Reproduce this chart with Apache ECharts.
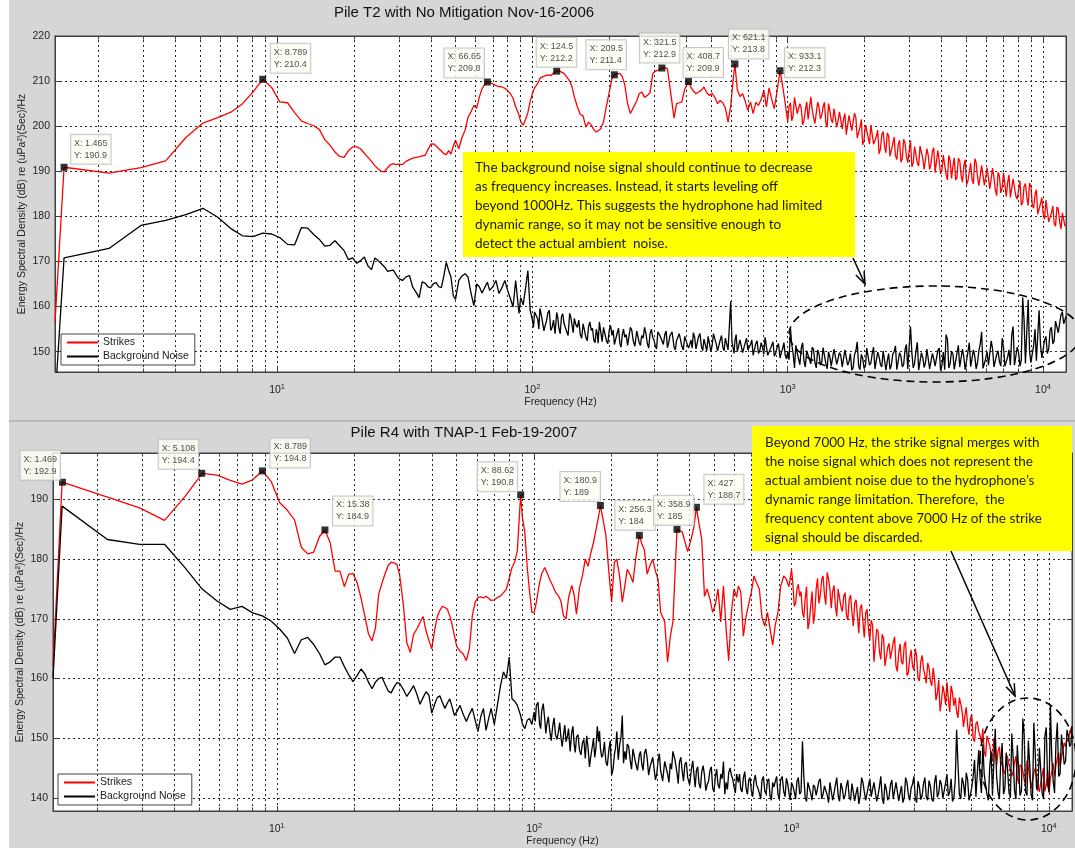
<!DOCTYPE html>
<html><head><meta charset="utf-8">
<script src="https://cdn.jsdelivr.net/npm/echarts@6/dist/echarts.min.js"></script>
<style>html,body{margin:0;padding:0;background:#fff}#c{width:1075px;height:848px}</style>
</head><body><div id="c"></div>
<script>
// ---------------- DATA ----------------
const freqHz = [
1.35, 1.465, 2.197, 2.93, 3.662, 4.395, 5.127, 5.859, 6.592, 7.324,
8.057, 8.789, 9.521, 10.25, 10.99, 11.72, 12.45, 13.18, 13.92, 14.65,
15.38, 16.11, 16.85, 17.58, 18.31, 19.04, 19.78, 20.51, 21.24, 21.97,
22.71, 23.44, 24.17, 24.9, 25.63, 26.37, 27.1, 27.83, 28.56, 29.3,
30, 31, 32, 33, 34, 35, 36, 37, 38, 39,
40, 41, 42, 43, 44, 45, 46, 47, 48, 49,
50, 51.5, 53, 54.5, 56, 57.5, 59, 60.5, 62, 63.5,
65, 66.65, 68, 70, 72, 74, 76, 78, 80, 82,
84, 86, 88.62, 90, 92, 94, 96, 98, 100,
102, 105, 107, 110, 112, 115, 118, 121, 124.5, 127,
130, 133, 136, 140, 143, 146, 150, 154, 158, 162,
166, 170, 174, 178, 180.9, 185, 190, 195, 200, 205,
209.5, 215, 220, 225, 230, 236, 242, 248, 256.3, 262,
268, 275, 282, 289, 296, 303, 310, 321.5, 330, 338,
346, 358.9, 367, 376, 385, 395, 408.7, 418, 427, 437,
448, 459, 470, 482, 494, 506, 518, 531, 544, 557,
570, 584, 598, 612, 621.1, 635, 650, 666, 682, 698,
715, 732, 750, 768, 787, 806, 825, 845, 865, 886,
907, 933.1, 955, 978, 1000,
1025, 1050, 1076, 1103, 1130, 1158, 1187, 1217, 1247, 1278,
1310, 1343, 1376, 1410, 1445, 1481, 1518, 1556, 1595, 1635,
1675, 1717, 1760, 1804, 1849, 1895, 1942, 1990, 2040, 2091,
2143, 2196, 2251, 2307, 2365, 2424, 2484, 2546, 2610, 2675,
2742, 2810, 2880, 2952, 3026, 3101, 3179, 3258, 3339, 3423,
3508, 3596, 3686, 3778, 3872, 3969, 4068, 4170, 4274, 4381,
4490, 4602, 4717, 4835, 4956, 5080, 5207, 5337, 5470, 5607,
5747, 5891, 6038, 6189, 6344, 6502, 6665, 6831, 7002, 7177,
7356, 7540, 7729, 7922, 8120, 8323, 8531, 8744, 8963, 9187,
9417, 9652, 9893, 10140, 10394, 10654, 10920, 11193, 11473, 11760,
12050, 12300
];
// extra readings in the dense (noisy) high-frequency part, all series
const freqHzHi = [
1012, 1037, 1063, 1089, 1116, 1144, 1172, 1202, 1232, 1262,
1294, 1326, 1359, 1393, 1427, 1463, 1499, 1537, 1575, 1615,
1655, 1696, 1738, 1782, 1826, 1872, 1918, 1966, 2015, 2065,
2117, 2169, 2223, 2279, 2336, 2394, 2454, 2515, 2578, 2642,
2708, 2776, 2845, 2916, 2989, 3063, 3140, 3218, 3298, 3381,
3465, 3552, 3641, 3732, 3825, 3920, 4018, 4119, 4222, 4327,
4435, 4546, 4659, 4776, 4895, 5018, 5143, 5272, 5403, 5538,
5677, 5819, 5964, 6113, 6266, 6423, 6583, 6748, 6916, 7089,
7266, 7448, 7634, 7825, 8021, 8221, 8427, 8637, 8853, 9075,
9302, 9534, 9772, 10016, 10267, 10524, 10787, 11056, 11333, 11616,
11905, 12175
];
// extra readings 100-1000 Hz for the noise curves
const freqHzMid = [
101, 103.5, 106, 108.5, 111, 113.5, 116.5, 119.5, 122.7, 125.7,
128.5, 131.5, 134.5, 138, 141.5, 144.5, 148, 152, 156, 160,
164, 168, 172, 176, 179.5, 183, 187.5, 192.5, 197.5, 202.5,
207.2, 212.2, 217.5, 222.5, 227.5, 233, 239, 245, 252, 259,
265, 271.5, 278.5, 285.5, 292.5, 299.5, 306.5, 315.7, 325.7, 334,
342, 352.4, 363, 371.5, 380.5, 390, 402, 413.3, 422.5, 432,
442.5, 453.5, 464.5, 476, 488, 500, 512, 524.5, 537.5, 550.5,
563.5, 577, 591, 605, 616.5, 628, 642.5, 658, 674, 690,
706.5, 723.5, 741, 759, 777.5, 796.5, 815.5, 835, 855, 875.5,
896.5, 920, 944, 966.5, 989
];

// Pile T2 - Strikes (dB)
const strikesT2 = [
156.5, 190.9, 189.6, 190.8, 192.3, 197.5, 200.7, 201.9, 203.1, 205.0,
207.6, 210.4, 208.6, 205.4, 205.2, 203.0, 201.2, 200.6, 200.1, 199.3,
197.0, 195.8, 194.3, 193.3, 193.1, 194.6, 195.4, 195.4, 195.0, 194.0,
193.1, 192.2, 191.2, 190.5, 190.0, 189.9, 190.8, 191.5, 191.7, 191.5,
191.6, 191.5, 192.2, 192.6, 192.9, 193.1, 193.2, 193.4, 193.5, 194.8,
196.0, 196.1, 195.6, 195.0, 194.5, 193.9, 193.7, 194.6, 193.8, 195.5,
196.9, 195.0, 197.5, 199.1, 202.0, 203.2, 204.6, 204.0, 206.5, 208.3,
209.2, 209.8, 209.6, 209.4, 209.0, 208.8, 208.7, 208.4, 207.9, 207.2,
206.2, 204.3, 202.5, 201.0, 200.2, 201.5, 203.0, 205.5, 207.2,
208.5, 209.5, 210.6, 211.0, 211.2, 211.4, 211.2, 211.8, 212.2, 212.3,
212.0, 211.7, 211.0, 210.0, 208.7, 206.5, 204.3, 202.6, 202.3, 199.8,
200.9, 200.3, 199.2, 198.7, 198.6, 199.4, 201.0, 204.5, 207.5, 210.6,
211.4, 211.6, 211.7, 211.0, 209.2, 205.0, 202.8, 204.0, 205.6, 207.2,
207.6, 206.4, 206.8, 207.4, 211.7, 212.2, 212.4, 212.9, 213.0, 212.7,
208.5, 201.8, 205.0, 205.2, 205.4, 208.2, 209.9, 208.6, 207.8, 207.2,
207.6, 208.0, 208.7, 207.4, 206.8, 207.3, 206.4, 205.0, 205.7, 205.2,
204.0, 200.9, 204.5, 210.5, 213.8, 208.0, 206.6, 207.2, 205.5, 203.5,
205.4, 202.8, 205.3, 204.6, 205.9, 208.0, 204.3, 208.5, 206.0, 203.9,
207.5, 212.3, 209.0, 205.0, 201.0,
205.2, 202.4, 206.1, 202.9, 204.1, 201.2, 205.4, 201.8, 203.7, 200.6,
205.3, 201.6, 204.3, 200.8, 205.0, 201.4, 203.9, 199.8, 203.2, 199.4,
202.8, 198.4, 202.4, 198.6, 201.9, 197.2, 201.5, 196.8, 200.6, 196.0,
200.4, 195.8, 199.1, 194.9, 198.8, 194.1, 197.9, 193.4, 197.6, 192.6,
196.9, 192.8, 196.2, 191.9, 196.8, 191.8, 195.6, 191.2, 195.3, 190.4,
195.0, 190.4, 194.4, 189.7, 194.6, 189.4, 193.6, 189.3, 193.5, 188.4,
193.0, 188.6, 192.4, 187.6, 192.6, 187.9, 191.8, 187.2, 191.9, 186.8,
191.3, 186.9, 190.8, 186.1, 190.7, 185.9, 189.8, 185.2, 189.7, 184.4,
189.2, 184.3, 188.2, 183.8, 187.9, 183.0, 187.3, 182.4, 186.6, 181.8,
185.9, 180.9, 184.2, 179.4, 183.4, 178.8, 182.3, 177.8, 181.6, 177.2,
180.6, 178.0
];
const strikesT2Hi = [
204.4, 201.2, 206.4, 202.8, 205.0, 200.3, 203.5, 201.5, 206.5, 202.0,
201.0, 204.3, 202.5, 205.3, 199.8, 203.4, 200.8, 204.2, 201.2, 203.3,
201.6, 198.1, 202.4, 199.0, 202.9, 197.4, 199.7, 195.9, 200.3, 197.6,
200.3, 196.0, 197.7, 193.9, 198.1, 195.6, 198.5, 193.3, 196.0, 193.5,
195.9, 192.0, 197.1, 193.4, 194.5, 191.0, 195.5, 191.8, 195.6, 192.8,
190.6, 193.5, 191.7, 195.2, 189.3, 192.4, 190.2, 193.3, 188.1, 192.4,
191.1, 188.1, 192.9, 189.1, 191.3, 187.0, 189.9, 188.1, 192.8, 188.8,
186.7, 190.9, 188.7, 191.1, 186.4, 188.6, 184.6, 188.9, 186.4, 189.9,
187.5, 184.2, 188.3, 184.5, 185.8, 182.5, 186.7, 184.3, 187.4, 182.5,
184.8, 180.5, 182.8, 180.5, 183.6, 178.8, 180.8, 178.5, 182.1, 178.8,
180.8, 177.9
];

// Pile T2 - Background Noise (dB)
const noiseT2 = [
139.0, 170.8, 172.9, 178.0, 179.1, 180.4, 181.8, 179.8, 177.3, 175.7,
175.5, 176.3, 176.1, 175.3, 173.8, 173.7, 177.5, 177.4, 176.0, 174.9,
173.4, 173.6, 174.6, 173.5, 172.4, 170.4, 170.8, 169.6, 170.2, 171.0,
169.0, 168.2, 170.8, 170.2, 169.5, 168.8, 167.8, 168.0, 168.1, 167.0,
166.2, 165.8, 166.6, 166.9, 164.3, 163.2, 162.0, 165.5, 165.2, 164.4,
164.2, 165.1, 165.3, 164.4, 164.2, 166.8, 169.8, 168.0, 166.5, 162.4,
161.6, 165.8, 166.8, 167.3, 166.5, 163.0, 160.2, 165.0, 164.4, 163.0,
164.2, 165.4, 163.6, 164.4, 165.8, 162.9, 164.2, 165.8, 163.6, 161.8,
159.9, 165.8, 158.5, 162.0, 160.4, 164.0, 168.0, 159.2, 157.0,
158.8, 157.2, 159.6, 157.6, 155.6, 158.6, 154.7, 157.0, 158.7, 155.2,
157.8, 156.3, 154.6, 158.5, 155.9, 157.4, 155.4, 153.8, 156.2, 153.2,
155.6, 154.7, 152.6, 155.0, 151.9, 154.6, 155.4, 152.4, 154.8, 153.6,
151.6, 154.2, 151.9, 153.8, 153.2, 151.4, 155.4, 152.6, 154.6, 152.0,
153.6, 155.4, 151.8, 154.0, 153.2, 151.2, 154.4, 152.5, 153.8, 150.9,
153.6, 151.0, 152.5, 154.0, 151.2, 153.4, 150.8, 152.6, 154.2, 150.6,
153.4, 151.2, 152.8, 150.2, 153.0, 151.4, 152.9, 150.2, 152.6, 151.0,
153.0, 150.4, 161.2, 150.6, 152.4, 150.0, 152.6, 149.8, 152.0, 150.4,
151.6, 149.2, 151.8, 149.6, 152.0, 149.4, 151.2, 148.8, 151.4, 149.0,
150.8, 148.6, 150.6, 149.2, 150.0,
155.2, 149.6, 151.4, 148.4, 150.8, 147.9, 150.2, 148.2, 151.0, 147.6,
150.4, 147.0, 150.9, 147.4, 150.0, 146.8, 150.6, 147.2, 149.8, 146.6,
150.4, 147.0, 149.6, 146.4, 150.2, 146.9, 149.4, 146.3, 150.8, 147.0,
149.6, 146.2, 149.9, 147.2, 150.2, 145.9, 149.6, 147.0, 150.0, 146.0,
149.8, 146.6, 150.4, 146.2, 155.6, 146.4, 150.2, 145.9, 149.8, 146.5,
150.6, 146.2, 149.6, 146.8, 150.3, 145.8, 149.9, 153.8, 146.4, 150.1,
146.1, 149.7, 146.6, 150.6, 146.0, 150.0, 146.7, 150.4, 146.2, 150.2,
154.4, 146.4, 150.0, 146.7, 150.6, 146.2, 150.2, 146.8, 151.0, 146.6,
150.4, 153.6, 147.0, 151.0, 146.8, 162.0, 147.4, 161.5, 147.6, 151.4,
148.0, 159.2, 148.6, 152.6, 149.6, 154.8, 151.8, 156.8, 154.2, 158.2,
156.2, 157.8
];
const noiseT2Hi = [
148.2, 151.6, 146.4, 149.8, 147.1, 152.0, 146.6, 149.2, 147.3, 150.5,
146.4, 149.5, 147.6, 151.2, 146.2, 148.8, 146.9, 150.9, 147.4, 149.1,
146.2, 150.0, 147.8, 145.9, 149.3, 152.2, 146.0, 148.6, 146.8, 150.4,
147.5, 151.0, 145.8, 148.9, 146.6, 150.6, 147.9, 146.1, 149.4, 151.3,
146.4, 149.0, 147.2, 151.6, 146.0, 149.8, 147.4, 152.1, 146.3, 148.7,
147.6, 151.0, 146.1, 148.4, 146.8, 150.8, 147.0, 146.0, 152.8, 147.4,
149.6, 146.2, 151.4, 147.0, 148.8, 146.4, 152.0, 146.8, 149.0, 147.6,
151.8, 146.3, 148.5, 147.0, 152.4, 146.6, 149.4, 147.8, 153.0, 146.8,
148.8, 147.0, 155.6, 146.9, 149.8, 148.2, 157.0, 147.2, 150.2, 148.0,
155.0, 147.8, 151.6, 149.0, 153.4, 150.6, 155.4, 152.4, 157.0, 154.6,
158.8, 156.0
];
const noiseT2Mid = [
155.4, 159.0, 155.0, 158.0, 154.6, 156.8, 159.2, 155.4, 154.0, 157.6,
154.0, 158.4, 156.6, 153.6, 157.6, 154.2, 156.0, 157.0, 153.0, 155.8,
152.4, 156.6, 155.2, 152.0, 154.0, 156.6, 152.2, 155.6, 151.8, 155.8,
154.8, 151.2, 155.2, 151.0, 155.0, 153.8, 151.8, 154.8, 151.2, 154.6,
151.4, 153.0, 154.0, 150.8, 155.0, 152.6, 150.6, 153.6, 151.6, 154.6,
152.0, 154.4, 150.4, 152.8, 153.6, 150.4, 153.0, 151.6, 150.8, 153.2,
151.0, 154.0, 150.2, 152.4, 153.4, 150.0, 154.0, 151.8, 150.4, 153.6,
150.2, 152.6, 155.8, 152.2, 149.6, 153.8, 150.4, 152.4, 149.4, 153.0,
150.0, 152.6, 149.0, 152.4, 150.2, 151.0, 153.2, 149.2, 150.6, 152.2,
149.6, 151.8, 149.8, 152.0, 148.4
];

// Pile R4 - Strikes (dB)
const strikesR4 = [
162.0, 192.9, 190.4, 188.6, 186.5, 190.5, 194.4, 194.1, 193.2, 192.6,
193.3, 194.8, 193.0, 189.5, 188.2, 186.6, 182.0, 180.9, 181.2, 183.8,
184.9, 182.8, 178.0, 178.0, 175.4, 177.5, 177.6, 176.1, 173.5, 170.5,
167.5, 166.3, 168.5, 174.2, 176.0, 177.6, 179.0, 179.5, 179.4, 179.1,
177.4, 172.5, 166.0, 164.4, 167.4, 168.3, 169.4, 170.4, 168.0, 166.4,
165.0, 168.0, 170.3, 171.4, 172.1, 171.9, 171.6, 170.5, 169.0, 167.2,
165.4, 164.6, 164.1, 163.0, 165.0, 170.5, 172.8, 173.6, 173.7, 173.5,
173.8, 173.4, 173.1, 173.2, 173.6, 173.8, 174.4, 175.0, 176.8, 178.6,
179.5, 181.4, 190.8, 187.0, 184.5, 178.6, 174.5, 171.1, 171.1,
172.8, 176.1, 177.6, 178.6, 177.8, 176.6, 175.6, 174.5, 173.8, 173.0,
170.5, 170.0, 173.5, 175.6, 174.0, 170.8, 175.2, 177.2, 180.0, 178.8,
181.0, 182.8, 185.0, 187.2, 189.0, 186.8, 184.0, 178.0, 172.8, 179.5,
180.0, 177.0, 172.8, 175.5, 178.3, 177.4, 176.1, 180.0, 184.0, 182.6,
181.6, 177.5, 179.0, 180.0, 178.0, 176.6, 171.1, 169.5, 162.8, 167.0,
169.5, 185.0, 184.8, 184.6, 183.0, 181.3, 183.6, 185.5, 188.7, 186.0,
183.3, 173.8, 175.0, 173.3, 171.1, 172.4, 175.0, 169.5, 175.5, 168.3,
163.0, 171.1, 175.0, 173.6, 175.5, 174.6, 167.1, 170.4, 172.5, 174.5,
177.2, 176.0, 175.0, 170.2, 168.8, 171.1, 168.4, 165.6, 169.0, 171.1,
175.4, 177.2, 176.6, 175.4, 178.3,
172.1, 175.0, 173.8, 171.1, 173.4, 168.3, 172.1, 169.2, 175.0, 172.6,
176.6, 174.0, 177.8, 175.0, 174.6, 172.1, 175.0, 172.1, 173.8, 170.6,
173.2, 171.1, 172.6, 170.5, 171.8, 169.4, 171.0, 168.3, 169.8, 162.8,
168.3, 164.5, 167.4, 162.1, 165.2, 163.3, 166.0, 162.1, 164.4, 162.8,
165.6, 160.5, 163.4, 162.1, 165.0, 160.0, 162.8, 161.6, 159.2, 161.8,
158.8, 160.0, 157.5, 154.5, 158.8, 155.6, 156.6, 158.8, 155.4, 154.5,
156.8, 154.5, 153.8, 152.1, 153.3, 150.0, 152.4, 151.1, 149.2, 147.8,
150.4, 148.8, 146.1, 149.0, 147.8, 145.4, 144.5, 147.2, 145.5, 143.6,
146.0, 143.3, 145.6, 144.5, 142.2, 145.0, 141.6, 144.2, 143.3, 141.0,
143.8, 141.1, 144.6, 143.3, 145.8, 145.5, 147.6, 146.8, 149.2, 150.0,
151.1, 152.0
];
const strikesR4Hi = [
176.0, 172.6, 175.8, 174.6, 170.2, 175.4, 169.4, 174.6, 171.0, 176.8,
174.0, 177.2, 172.4, 176.6, 171.8, 175.6, 170.4, 174.8, 171.2, 174.4,
169.8, 174.0, 168.8, 173.2, 167.6, 172.4, 166.9, 171.6, 166.4, 169.0,
165.6, 167.9, 163.2, 166.8, 161.8, 165.9, 163.6, 167.0, 161.2, 165.8,
162.4, 166.2, 160.9, 164.8, 161.4, 163.8, 159.6, 163.9, 160.6, 162.6,
159.6, 161.8, 156.4, 159.8, 156.2, 157.6, 159.4, 154.4, 157.6, 156.8,
153.4, 155.8, 151.9, 155.2, 150.6, 154.0, 149.4, 152.8, 150.4, 151.6,
146.9, 149.6, 147.2, 150.0, 145.4, 148.6, 146.2, 144.0, 146.8, 144.8,
144.4, 147.0, 142.4, 145.2, 143.0, 146.2, 143.6, 141.8, 145.0, 142.0,
142.6, 145.0, 142.2, 140.8, 144.4, 143.6, 146.6, 145.2, 148.0, 148.6,
149.4, 151.6
];

// Pile R4 - Background Noise (dB)
const noiseR4 = [
160.0, 188.9, 183.3, 182.5, 182.5, 178.6, 175.0, 173.0, 171.6, 172.1,
171.0, 170.5, 169.6, 168.3, 166.8, 164.2, 166.5, 166.9, 165.7, 164.2,
162.3, 162.8, 163.6, 163.6, 162.0, 160.6, 159.5, 160.5, 161.6, 160.8,
159.4, 158.3, 159.4, 160.0, 160.2, 159.0, 157.9, 157.6, 158.6, 159.3,
159.2, 158.2, 157.0, 157.9, 158.8, 157.4, 155.7, 156.8, 157.8, 157.2,
154.2, 155.6, 156.8, 157.1, 156.0, 155.0, 155.9, 156.6, 155.2, 153.8,
154.4, 155.5, 154.0, 152.8, 154.0, 155.0, 153.0, 151.1, 153.6, 155.0,
151.3, 153.4, 155.0, 152.3, 155.6, 158.8, 161.1, 160.0, 163.6, 156.6,
156.2, 155.5, 153.8, 152.4, 151.6, 153.0, 153.3, 152.3, 154.4,
155.5, 152.3, 154.6, 153.0, 152.3, 151.2, 152.0, 150.6, 151.4, 150.2,
150.5, 149.4, 151.6, 151.1, 149.0, 150.2, 148.0, 149.2, 146.6, 148.4,
147.0, 150.0, 148.6, 149.4, 148.3, 147.2, 146.0, 148.0, 143.8, 147.2,
151.1, 149.0, 153.8, 147.8, 149.0, 146.4, 148.2, 145.8, 147.2, 145.6,
147.4, 146.6, 145.2, 146.8, 143.0, 146.2, 144.6, 146.1, 144.0, 145.8,
147.8, 144.2, 146.0, 144.5, 145.6, 143.4, 145.0, 143.8, 144.6, 142.4,
144.4, 143.8, 142.2, 144.6, 141.6, 143.6, 142.2, 144.0, 146.1, 142.6,
144.2, 143.8, 141.8, 144.0, 142.6, 141.4, 143.3, 141.6, 143.0, 141.2,
142.9, 142.1, 140.8, 143.0, 141.2, 142.8, 140.4, 142.6, 142.8, 140.6,
143.0, 141.0, 143.3, 140.8, 142.6,
141.0, 142.8, 140.6, 149.5, 140.0, 142.6, 140.8, 142.2, 140.4, 142.8,
139.8, 142.0, 140.5, 142.6, 139.6, 142.2, 140.4, 142.5, 139.8, 142.0,
140.2, 142.4, 139.5, 141.8, 140.3, 142.6, 139.6, 142.0, 140.2, 142.6,
139.4, 141.9, 140.0, 142.4, 139.6, 142.2, 139.8, 142.6, 139.5, 142.0,
140.0, 142.6, 139.6, 142.3, 140.0, 142.8, 139.7, 142.4, 140.2, 142.9,
139.8, 142.6, 140.1, 143.0, 139.9, 142.5, 140.3, 143.2, 140.0, 151.4,
140.6, 143.4, 140.2, 143.0, 140.5, 143.6, 140.2, 148.0, 140.8, 144.0,
140.6, 145.2, 140.4, 151.6, 141.0, 146.0, 140.6, 147.6, 140.8, 150.8,
141.2, 148.8, 140.4, 153.3, 141.0, 149.6, 140.6, 152.6, 141.4, 148.4,
140.8, 150.4, 142.2, 155.5, 142.8, 149.2, 143.6, 150.6, 145.6, 151.4,
148.6, 152.0
];
const noiseR4Hi = [
142.0, 139.8, 143.4, 141.0, 143.8, 139.4, 142.4, 139.6, 141.8, 140.2,
143.2, 140.6, 141.8, 139.2, 142.8, 140.8, 143.4, 139.4, 141.6, 140.4,
143.0, 139.6, 142.2, 140.8, 139.0, 143.4, 141.0, 139.4, 143.2, 140.0,
142.6, 140.4, 143.6, 139.0, 141.4, 140.2, 143.0, 139.6, 142.4, 140.8,
139.2, 143.4, 140.6, 141.6, 143.6, 139.2, 141.8, 140.4, 143.4, 139.6,
142.0, 139.4, 143.8, 140.8, 142.2, 139.6, 144.0, 141.0, 139.4, 143.0,
145.6, 139.8, 142.4, 144.2, 139.6, 141.8, 146.4, 140.2, 143.4, 149.0,
142.2, 139.6, 147.8, 140.6, 143.6, 139.8, 149.2, 141.6, 144.6, 140.0,
146.6, 139.8, 144.6, 141.2, 150.6, 140.4, 145.4, 139.6, 147.4, 142.0,
144.6, 139.8, 151.8, 141.0, 146.6, 140.8, 152.6, 144.0, 148.4, 146.2,
150.4, 149.0
];
const noiseR4Mid = [
152.8, 156.0, 151.6, 155.8, 150.8, 153.6, 149.6, 153.4, 149.8, 152.6,
148.6, 152.2, 150.2, 147.8, 152.0, 147.6, 150.6, 147.2, 149.8, 150.4,
145.2, 148.4, 146.8, 152.0, 151.2, 146.8, 149.4, 145.4, 149.6, 144.8,
148.4, 146.4, 150.2, 145.8, 146.4, 148.6, 144.8, 148.0, 144.6, 147.8,
144.6, 148.2, 143.8, 145.0, 147.0, 144.0, 147.4, 142.8, 146.4, 142.6,
144.8, 146.4, 142.4, 146.8, 142.8, 146.0, 142.2, 146.2, 141.8, 145.2,
141.6, 145.4, 141.2, 142.8, 145.2, 141.0, 144.8, 141.6, 143.2, 140.6,
141.4, 145.0, 143.2, 140.8, 143.8, 144.0, 141.0, 144.4, 140.6, 143.4,
140.2, 143.8, 141.6, 139.8, 143.6, 140.6, 143.2, 139.6, 141.8, 143.6,
139.8, 143.6, 140.2, 142.4, 139.6
];

// data cursors (datatips)
const tipHzT2 = [1.465, 8.789, 66.65, 124.5, 209.5, 321.5, 408.7, 621.1, 933.1];
const tipDbT2 = [190.9, 210.4, 209.8, 212.2, 211.4, 212.9, 209.9, 213.8, 212.3];
const tipHzR4 = [1.469, 5.108, 8.789, 15.38, 88.62, 180.9, 256.3, 358.9, 427];
const tipDbR4 = [192.9, 194.4, 194.8, 184.9, 190.8, 189, 184, 185, 188.7];

// minor (log) grid positions, Hz
const minorGridHz = [2,3,4,5,6,7,8,9,20,30,40,50,60,70,80,90,200,300,400,500,600,700,800,900,2000,3000,4000,5000,6000,7000,8000,9000];

const chartTitles = ['Pile T2 with No Mitigation Nov-16-2006', 'Pile R4 with TNAP-1 Feb-19-2007'];
const seriesNames = ['Strikes', 'Background Noise'];
const xName = 'Frequency (Hz)';
const yName = 'Energy Spectral Density (dB) re (uPa²)(Sec)/Hz';
const noteT2 = ['The background noise signal should continue to decrease',
  'as frequency increases. Instead, it starts leveling off',
  'beyond 1000Hz. This suggests the hydrophone had limited',
  'dynamic range, so it may not be sensitive enough to',
  'detect the actual ambient  noise.'];
const noteR4 = ['Beyond 7000 Hz, the strike signal merges with',
  'the noise signal which does not represent the',
  'actual ambient noise due to the hydrophone\u2019s',
  'dynamic range limitation. Therefore,  the',
  'frequency content above 7000 Hz of the strike',
  'signal should be discarded.'];

// ---------------- STYLE / LAYOUT ----------------
const FONT = 'Liberation Sans, Arial, Helvetica, sans-serif';
const tipOffT2 = [[7,-18],[8,-21],[-43,-19],[-20,-19],[-28,-20],[-22,-20],[-5,-19],[-6,-20],[5,-8]];
const tipOffR4 = [[-42,-17],[-43,-19],[8,-18],[8,-19],[-43,-18],[-40,-19],[-24,-20],[-23,-19],[8,-18]];
const X_MIN = 1.35, X_MAX = 12300;
const Y_T2 = [145.5, 220], Y_R4 = [137.8, 197.8];

const zipPairs = (fs, vals) => fs.map((f, i) => [f, vals[i]]);
const merged = (...groups) => [].concat(...groups).sort((a, b) => a[0] - b[0]);
const powLabel = v => {
  const e = Math.round(Math.log10(v));
  return Math.abs(v / Math.pow(10, e) - 1) < 1e-6 ? '{b|10}{s|' + e + '}' : '';
};
const dotted = {type: [2, 3], color: '#2a2a2a', width: 1};
const frame = {color: '#404040', width: 1};

function xAx(gi, pos, main) {
  return {
    type: 'log', logBase: 10, gridIndex: gi, position: pos, min: X_MIN, max: X_MAX,
    axisLine: {show: true, onZero: false, lineStyle: frame},
    axisTick: {show: true, inside: true, length: 5, lineStyle: frame},
    axisLabel: {show: main, margin: 7, formatter: powLabel, color: '#222',
      rich: {b: {fontSize: 10.5, fontFamily: FONT, color: '#222', padding: [6, 0, 0, 0]},
             s: {fontSize: 7.5, fontFamily: FONT, color: '#222', padding: [0, 0, 2, 0]}}},
    splitLine: {show: main, lineStyle: dotted},
    name: main ? xName : '', nameLocation: 'middle', nameGap: 25, nameMoveOverlap: false,
    nameTextStyle: {fontSize: 10.5, fontFamily: FONT, color: '#222'}
  };
}
function yAx(gi, pos, ext, split, main) {
  return {
    type: 'value', gridIndex: gi, position: pos, min: ext[0], max: ext[1], splitNumber: split,
    axisLine: {show: true, onZero: false, lineStyle: frame},
    axisTick: {show: true, inside: true, length: 5, lineStyle: frame},
    axisLabel: {show: main, margin: 5, fontSize: 10.5, fontFamily: FONT, color: '#222',
      formatter: v => (Math.abs(v % 10) < 1e-6 ? String(v) : '')},
    splitLine: {show: main, lineStyle: dotted},
    name: main ? yName : '', nameLocation: 'middle', nameGap: 27, nameRotate: 90, nameMoveOverlap: false,
    nameTextStyle: {fontSize: 10.5, fontFamily: FONT, color: '#222'}
  };
}
function lineS(name, data, color, xi, yi) {
  return {type: 'line', name: name, xAxisIndex: xi, yAxisIndex: yi, data: data,
    showSymbol: false, symbol: 'none', color: color, clip: true, z: 3,
    lineStyle: {color: color, width: 1.3}, emphasis: {disabled: true}};
}
function tipS(hz, db, offs, xi, yi) {
  return {type: 'scatter', xAxisIndex: xi, yAxisIndex: yi, symbol: 'rect', symbolSize: 7, z: 6,
    itemStyle: {color: '#000'}, emphasis: {disabled: true},
    data: hz.map((f, i) => ({value: [f, db[i]],
      label: {show: true, position: 'inside', align: 'left', verticalAlign: 'middle', offset: offs[i],
        formatter: 'X: ' + f + '\nY: ' + db[i], fontSize: 9, lineHeight: 12, fontFamily: FONT,
        color: '#222', backgroundColor: '#fffff6', borderColor: '#b8b8b8', borderWidth: 1,
        padding: [3, 3, 2, 3]}}))};
}
// minor log grid lines + short inside minor ticks (top and bottom frame)
function gridS(xi, yi, ext, tickDb) {
  const ticks = [];
  minorGridHz.forEach(v => {
    ticks.push([{coord: [v, ext[0]]}, {coord: [v, ext[0] + tickDb]}]);
    ticks.push([{coord: [v, ext[1]]}, {coord: [v, ext[1] - tickDb]}]);
  });
  return [
    {type: 'line', xAxisIndex: xi, yAxisIndex: yi, data: [], z: 1, silent: true,
      markLine: {silent: true, symbol: ['none', 'none'], label: {show: false}, animation: false,
        lineStyle: dotted, emphasis: {disabled: true},
        data: minorGridHz.map(v => ({xAxis: v}))}},
    {type: 'line', xAxisIndex: xi, yAxisIndex: yi, data: [], z: 4, silent: true,
      markLine: {silent: true, symbol: ['none', 'none'], label: {show: false}, animation: false,
        lineStyle: {type: 'solid', color: '#404040', width: 1}, emphasis: {disabled: true},
        data: ticks}}
  ];
}
function legendAt(left, top) {
  return {data: seriesNames, left: left, top: top, orient: 'vertical', icon: 'rect',
    itemWidth: 31, itemHeight: 2, itemGap: 3, selectedMode: false,
    padding: [3, 6, 3, 6], backgroundColor: '#fff', borderColor: '#444', borderWidth: 1,
    textStyle: {fontSize: 10.5, fontFamily: FONT, color: '#222'}};
}
function arrow(x1, y1, x2, y2) {
  const dx = x2 - x1, dy = y2 - y1, L = Math.hypot(dx, dy), ux = dx / L, uy = dy / L;
  const bx = x2 - 12 * ux, by = y2 - 12 * uy, px = -uy * 4.5, py = ux * 4.5;
  return [
    {type: 'line', z: 100, shape: {x1: x1, y1: y1, x2: x2, y2: y2}, style: {stroke: '#000', lineWidth: 1.5}},
    {type: 'polyline', z: 100, shape: {points: [[bx + px, by + py], [x2, y2], [bx - px, by - py]]},
      style: {stroke: '#000', lineWidth: 1.5, fill: null}}
  ];
}

const option = {
  animation: false,
  backgroundColor: '#d6d6d6',
  textStyle: {fontFamily: FONT},
  title: [
    {text: chartTitles[0], left: 464, top: 5, textAlign: 'center', padding: 0,
      textStyle: {fontSize: 15, fontWeight: 'normal', color: '#111', fontFamily: FONT}},
    {text: chartTitles[1], left: 464, top: 425, textAlign: 'center', padding: 0,
      textStyle: {fontSize: 15, fontWeight: 'normal', color: '#111', fontFamily: FONT}}
  ],
  legend: [legendAt(61, 334), legendAt(58, 774)],
  grid: [
    {left: 55, top: 36, width: 1011, height: 336, show: true, backgroundColor: '#fff', borderColor: '#404040', borderWidth: 1},
    {left: 53, top: 453, width: 1019, height: 360, show: true, backgroundColor: '#fff', borderColor: '#404040', borderWidth: 1}
  ],
  xAxis: [xAx(0, 'bottom', true), xAx(0, 'top', false), xAx(1, 'bottom', true), xAx(1, 'top', false)],
  yAxis: [yAx(0, 'left', Y_T2, 8, true), yAx(0, 'right', Y_T2, 8, false),
          yAx(1, 'left', Y_R4, 6, true), yAx(1, 'right', Y_R4, 6, false)],
  series: [
    ...gridS(0, 0, Y_T2, 0.8), ...gridS(2, 2, Y_R4, 0.6),
    lineS(seriesNames[0], merged(zipPairs(freqHz, strikesT2), zipPairs(freqHzHi, strikesT2Hi)), '#ff0000', 0, 0),
    lineS(seriesNames[1], merged(zipPairs(freqHz, noiseT2), zipPairs(freqHzHi, noiseT2Hi), zipPairs(freqHzMid, noiseT2Mid)), '#000000', 0, 0),
    lineS(seriesNames[0], merged(zipPairs(freqHz, strikesR4), zipPairs(freqHzHi, strikesR4Hi)), '#ff0000', 2, 2),
    lineS(seriesNames[1], merged(zipPairs(freqHz, noiseR4), zipPairs(freqHzHi, noiseR4Hi), zipPairs(freqHzMid, noiseR4Mid)), '#000000', 2, 2),
    tipS(tipHzT2, tipDbT2, tipOffT2, 0, 0),
    tipS(tipHzR4, tipDbR4, tipOffR4, 2, 2)
  ],
  graphic: [
    {type: 'rect', z: 0, silent: true, shape: {x: 0, y: 0, width: 9, height: 848}, style: {fill: '#ffffff'}},
    {type: 'line', z: 0, silent: true, shape: {x1: 9, y1: 421, x2: 1075, y2: 421}, style: {stroke: '#9a9a9a', lineWidth: 1}},
    {type: 'rect', z: 100, shape: {x: 463, y: 152, width: 392, height: 105}, style: {fill: '#ffff00'}},
    {type: 'text', z: 101, x: 475, y: 158, style: {text: noteT2.join('\n'), fontSize: 13.5, fontFamily: 'Lato',
      lineHeight: 19, fill: '#1a1a1a', verticalAlign: 'top'}},
    {type: 'rect', z: 100, shape: {x: 752, y: 426, width: 320, height: 125}, style: {fill: '#ffff00'}},
    {type: 'text', z: 101, x: 765, y: 433, style: {text: noteR4.join('\n'), fontSize: 13.5, fontFamily: 'Lato',
      lineHeight: 19, fill: '#1a1a1a', verticalAlign: 'top'}},
    ...arrow(853, 258, 865, 284),
    ...arrow(951, 551, 1015, 696),
    {type: 'ellipse', z: 100, shape: {cx: 935, cy: 334, rx: 146, ry: 48},
      style: {fill: null, stroke: '#000', lineWidth: 1.6, lineDash: [8, 5]}},
    {type: 'ellipse', z: 100, shape: {cx: 1028, cy: 759, rx: 48, ry: 61},
      style: {fill: null, stroke: '#000', lineWidth: 1.6, lineDash: [8, 5]}}
  ]
};

const chart = echarts.init(document.getElementById('c'), null, {renderer: 'canvas'});
chart.setOption(option);
</script>
</body></html>
